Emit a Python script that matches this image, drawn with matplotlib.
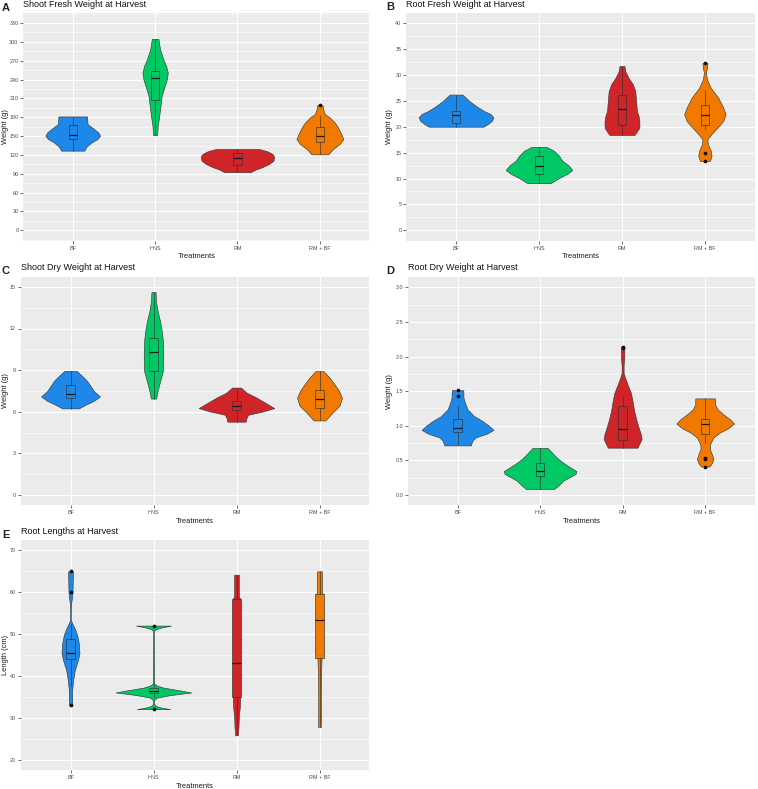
import matplotlib
matplotlib.use("Agg")
import matplotlib.pyplot as plt
from matplotlib.ticker import MultipleLocator, FormatStrFormatter

plt.rcParams['font.family'] = ['Liberation Sans', 'DejaVu Sans']

treatments = ["BF", "HNS", "RM", "RM + BF"]
colors = ["#1E88E8", "#00C864", "#CF2428", "#F27900"]

# violin outlines: heights and half widths (in category units)
# box stats: (whisker low, q1, median, q3, whisker high)

# A - shoot fresh weight (g)
sfw_y = [[126.9, 133.7, 140.1, 145.4, 150.6, 155.9, 161.2, 169.1, 181.3],
         [151.7, 166.5, 182.3, 198, 214, 227.2, 240.4, 251, 261.5, 272, 287.9, 304.8],
         [92.6, 96.8, 100.5, 105.8, 111, 117.4, 121.6, 126, 129.5],
         [121, 129.5, 137.4, 145.4, 155.9, 163.8, 171.8, 179.7, 185, 192.9, 199.2]]
sfw_w = [[0.14, 0.17, 0.23, 0.30, 0.332, 0.31, 0.26, 0.18, 0.174],
         [0.025, 0.032, 0.05, 0.065, 0.08, 0.11, 0.142, 0.154, 0.134, 0.1, 0.06, 0.04],
         [0.16, 0.22, 0.30, 0.385, 0.437, 0.445, 0.425, 0.36, 0.263],
         [0.10, 0.16, 0.24, 0.285, 0.25, 0.22, 0.18, 0.12, 0.06, 0.04, 0.032]]
sfw_box = [(127, 145.4, 151.7, 167.5, 181), (152, 206.8, 242.7, 254, 304),
           (92.6, 104.7, 114.8, 122.6, 129.5), (121.2, 140, 150, 163.8, 182)]
sfw_out = [[], [], [], [200]]

# B - root fresh weight (g)
rfw_y = [[20.0, 20.5, 21.1, 21.8, 22.4, 23.0, 24.0, 24.96, 26.2],
         [9.1, 10.1, 10.9, 11.65, 12.48, 13.44, 14.4, 15.36, 16.1],
         [18.4, 19.07, 19.8, 21.1, 22.1, 23.0, 25.0, 26.9, 28.2, 29.4, 30.7, 31.7],
         [13.4, 14.4, 15.4, 16.6, 17.6, 18.6, 19.8, 21.1, 22.4, 23.7, 25.6, 27.5, 29.1, 30.4, 31.4, 32.3]]
rfw_w = [[0.33, 0.38, 0.43, 0.45, 0.42, 0.34, 0.24, 0.16, 0.077],
         [0.14, 0.24, 0.34, 0.40, 0.36, 0.28, 0.24, 0.18, 0.09],
         [0.15, 0.18, 0.21, 0.21, 0.2, 0.18, 0.17, 0.16, 0.13, 0.08, 0.04, 0.03],
         [0.06, 0.08, 0.07, 0.035, 0.03, 0.08, 0.15, 0.22, 0.25, 0.22, 0.16, 0.07, 0.025, 0.012, 0.025, 0.03]]
rfw_box = [(20.0, 20.8, 22.3, 23.05, 26.2), (9.1, 10.9, 12.35, 14.27, 16.1),
           (18.4, 20.4, 23.5, 26.1, 31.7), (19.5, 20.4, 22.3, 24.26, 27.1)]
rfw_out = [[], [], [], [32.3, 14.85, 13.4]]

# C - shoot dry weight (g)
sdw_y = [[6.24, 6.5, 6.78, 7.1, 7.5, 7.86, 8.22, 8.58, 8.94],
         [6.95, 7.6, 8.2, 8.93, 9.65, 10.37, 11.09, 11.8, 12.5, 13.24, 13.95, 14.62],
         [5.28, 5.54, 5.78, 6.02, 6.26, 6.67, 7.02, 7.38, 7.74],
         [5.37, 5.95, 6.43, 7.0, 7.5, 7.98, 8.46, 8.92]]
sdw_w = [[0.10, 0.18, 0.28, 0.355, 0.28, 0.24, 0.20, 0.14, 0.073],
         [0.032, 0.053, 0.08, 0.113, 0.117, 0.117, 0.113, 0.10, 0.08, 0.05, 0.03, 0.025],
         [0.11, 0.12, 0.14, 0.32, 0.455, 0.34, 0.24, 0.12, 0.053],
         [0.07, 0.16, 0.24, 0.27, 0.235, 0.18, 0.12, 0.05]]
sdw_box = [(6.2, 7.0, 7.28, 7.95, 8.94), (6.9, 8.96, 10.34, 11.3, 14.6),
           (5.25, 6.09, 6.38, 6.8, 7.74), (5.37, 6.24, 6.92, 7.55, 8.92)]
sdw_out = [[], [], [], []]

# D - root dry weight (g)
rdw_y = [[0.716, 0.783, 0.831, 0.888, 0.941, 1.0, 1.07, 1.14, 1.237, 1.33, 1.404, 1.514],
         [0.086, 0.134, 0.205, 0.305, 0.344, 0.449, 0.52, 0.592, 0.678],
         [0.683, 0.735, 0.807, 0.879, 0.95, 1.07, 1.213, 1.357, 1.476, 1.595, 1.69, 1.763, 1.88, 1.98, 2.145],
         [0.41, 0.458, 0.52, 0.592, 0.664, 0.735, 0.831, 0.903, 0.965, 1.032, 1.094, 1.165, 1.237, 1.309, 1.395]]
rdw_w = [[0.16, 0.18, 0.22, 0.36, 0.435, 0.38, 0.30, 0.2, 0.12, 0.09, 0.072, 0.07],
         [0.17, 0.22, 0.28, 0.43, 0.44, 0.3, 0.22, 0.16, 0.093],
         [0.18, 0.2, 0.23, 0.22, 0.2, 0.17, 0.14, 0.12, 0.1, 0.06, 0.03, 0.012, 0.012, 0.02, 0.02],
         [0.05, 0.08, 0.1, 0.08, 0.056, 0.06, 0.1, 0.18, 0.28, 0.35, 0.3, 0.22, 0.15, 0.12, 0.12]]
rdw_box = [(0.717, 0.908, 0.97, 1.099, 1.28), (0.086, 0.277, 0.349, 0.463, 0.678),
           (0.683, 0.788, 0.956, 1.29, 1.424), (0.755, 0.874, 1.018, 1.104, 1.395)]
rdw_out = [[1.51, 1.43], [], [2.14, 2.12], [0.54, 0.515, 0.41]]

# E - root length (cm)
rl_y = [[32.9, 33.8, 35, 36.6, 39, 41.4, 43.8, 45.4, 47.8, 49.8, 51.4, 52.6, 53.4, 55.8, 57.4, 59, 60, 63.8, 65],
        [32.05, 32.4, 32.8, 33.3, 34.2, 34.8, 35.4, 36.05, 36.6, 37.2, 37.7, 38.2, 50.8, 51.2, 51.6, 52.03],
        [25.8, 27.8, 30.2, 32.6, 35.0, 40, 50, 58.4, 59.0, 63.8, 64.2],
        [27.8, 33.4, 41.4, 44.2, 50, 59.6, 60, 65]]
rl_w = [[0.016, 0.02, 0.02, 0.02, 0.032, 0.052, 0.09, 0.108, 0.1, 0.08, 0.05, 0.02, 0.004, 0.004, 0.008, 0.02, 0.024, 0.028, 0.028],
        [0.2, 0.1, 0.03, 0.006, 0.006, 0.04, 0.2, 0.455, 0.3, 0.12, 0.04, 0.008, 0.004, 0.03, 0.1, 0.21],
        [0.016, 0.024, 0.028, 0.04, 0.045, 0.045, 0.045, 0.045, 0.028, 0.028, 0.028],
        [0.016, 0.016, 0.02, 0.025, 0.04, 0.04, 0.03, 0.03]]
rl_box = [(37.5, 44.04, 45.56, 48.75, 52.5), (35.0, 35.8, 36.4, 37.1, 38.0),
          (25.8, 35.0, 43.0, 58.4, 64.2), (27.8, 44.2, 53.3, 59.6, 65)]
rl_out = [[33, 60, 65], [52, 32], [], []]


W, H = 758, 789


def px_axes(l, r, t, b):
    return [l / W, 1 - b / H, (r - l) / W, (b - t) / H]


def draw_panel(ax, ys, ws, boxes, outs, ylim, step, fmt, ylabel, label_x):
    ax.set_facecolor("#EBEBEB")
    pos = list(range(1, len(treatments) + 1))

    vstats = []
    widths = []
    for y, w, b in zip(ys, ws, boxes):
        vstats.append({"coords": y, "vals": w, "mean": b[2], "median": b[2],
                       "min": y[0], "max": y[-1]})
        widths.append(2 * max(w))
    vp = ax.violin(vstats, positions=pos, widths=widths,
                   showmeans=False, showextrema=False, showmedians=False)
    for body, c in zip(vp["bodies"], colors):
        body.set_facecolor(c)
        body.set_edgecolor("#3A3A3A")
        body.set_linewidth(0.45)
        body.set_alpha(1)
        body.set_zorder(2)

    bstats = []
    for b, o in zip(boxes, outs):
        bstats.append({"whislo": b[0], "q1": b[1], "med": b[2], "q3": b[3],
                       "whishi": b[4], "fliers": o})
    bp = ax.bxp(bstats, positions=pos, widths=0.1, patch_artist=True,
                showcaps=False, showfliers=True,
                boxprops=dict(edgecolor="#333333", linewidth=0.45),
                whiskerprops=dict(color="#333333", linewidth=0.45),
                medianprops=dict(color="#1A1A1A", linewidth=0.9),
                flierprops=dict(marker="o", markersize=1.7, markerfacecolor="#111111",
                                markeredgecolor="#111111", linestyle="none"),
                zorder=3)
    for patch, c in zip(bp["boxes"], colors):
        patch.set_facecolor(c)

    ax.set_xlim(0.4, len(treatments) + 0.6)
    ax.set_ylim(*ylim)
    ax.set_xticks(pos)
    ax.set_xticklabels(treatments)
    ax.yaxis.set_major_locator(MultipleLocator(step))
    ax.yaxis.set_minor_locator(MultipleLocator(step / 2))
    ax.yaxis.set_major_formatter(FormatStrFormatter(fmt))
    ax.grid(which="major", color="white", linewidth=0.8, zorder=0)
    ax.grid(which="minor", axis="y", color="white", linewidth=0.4, zorder=0)
    ax.set_axisbelow(True)
    for s in ax.spines.values():
        s.set_visible(False)
    ax.tick_params(which="major", length=2, width=0.5, color="#333333",
                   labelsize=3.9, labelcolor="#4D4D4D", pad=1.5)
    ax.tick_params(which="minor", length=0)
    ax.set_xlabel("Treatments", fontsize=5.4, color="#1A1A1A", labelpad=2)
    ax.set_ylabel(ylabel, fontsize=5.4, color="#1A1A1A")
    ax.yaxis.set_label_coords(label_x, 0.5)


fig = plt.figure(figsize=(W / 100, H / 100), dpi=100)

panels = [
    ("A", "Shoot Fresh Weight at Harvest", (23.3, 369.3, 12.7, 240.7), sfw_y, sfw_w, sfw_box, sfw_out,
     (-16.5, 346.5), 30, "%d", "Weight (g)", 2, 10.7, 7.3),
    ("B", "Root Fresh Weight at Harvest", (406.3, 754.7, 12.7, 240.7), rfw_y, rfw_w, rfw_box, rfw_out,
     (-2, 42), 5, "%d", "Weight (g)", 386, 10.2, 7.3),
    ("C", "Shoot Dry Weight at Harvest", (20.7, 369.3, 276.5, 505.3), sdw_y, sdw_w, sdw_box, sdw_out,
     (-0.75, 15.75), 3, "%d", "Weight (g)", 2, 274.5, 270.5),
    ("D", "Root Dry Weight at Harvest", (408, 754.7, 277, 505.3), rdw_y, rdw_w, rdw_box, rdw_out,
     (-0.15, 3.15), 0.5, "%.1f", "Weight (g)", 386, 274, 270.5),
    ("E", "Root Lengths at Harvest", (20.7, 369.3, 540, 770), rl_y, rl_w, rl_box, rl_out,
     (17.5, 72.5), 10, "%d", "Length (cm)", 2, 537.7, 533.5),
]

for tag, title, box, ys, ws, bx, outs, ylim, step, fmt, ylab, tx, ty, tty in panels:
    ax = fig.add_axes(px_axes(*box))
    # y label sits about 9 px from the left edge of its column
    label_x = ((tx - 2) + 9 - box[0]) / (box[1] - box[0])
    draw_panel(ax, ys, ws, bx, outs, ylim, step, fmt, ylab, label_x)
    fig.text(tx / W, 1 - ty / H, tag, fontsize=8, fontweight="bold",
             color="#222222", va="baseline", ha="left")
    fig.text(box[0] / W, 1 - tty / H, title, fontsize=6.5, color="#111111",
             va="baseline", ha="left")

fig.savefig("out.png", dpi=100)
